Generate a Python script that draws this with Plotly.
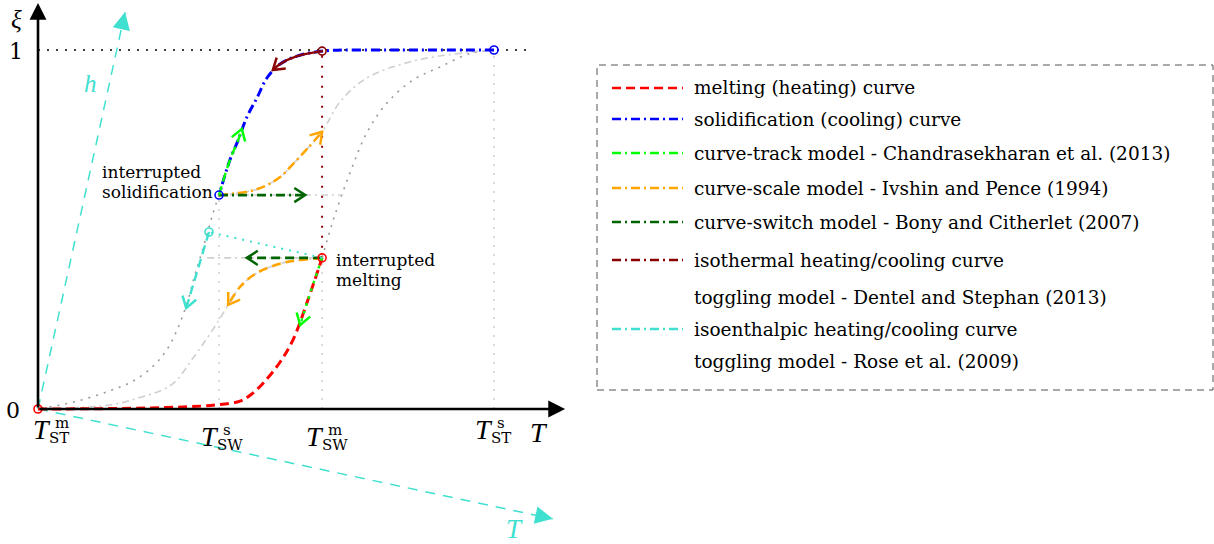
import math
import plotly.graph_objects as go

W, H = 1214, 544

# ---------------- data (T normalised: 0 = T_ST^m, 1 = T_ST^s ; xi = liquid fraction) ----------------
tick_T = [0.0, 0.397, 0.623, 1.0]
tick_sup = ["m", "s", "m", "s"]
tick_sub = ["ST", "SW", "SW", "ST"]
tick_guide_top = [0.0, 0.596, 0.421, 1.0]

# melting (heating) curve - drawn part, and its continuation
melt_T = [0.0, 0.246, 0.388, 0.443, 0.469, 0.498, 0.531, 0.559, 0.592, 0.623]
melt_xi = [0.0, 0.003, 0.011, 0.022, 0.042, 0.078, 0.131, 0.192, 0.304, 0.421]
melt_rest_T = [0.623, 0.649, 0.684, 0.721, 0.765, 0.822, 0.882, 0.947, 1.0]
melt_rest_xi = [0.421, 0.532, 0.657, 0.769, 0.852, 0.916, 0.953, 0.99, 1.0]

# solidification (cooling) curve - drawn part, and its continuation
solid_T = [1.0, 0.794, 0.625, 0.568, 0.531, 0.502, 0.480, 0.458, 0.439, 0.421, 0.397]
solid_xi = [1.0, 1.0, 0.997, 0.983, 0.961, 0.922, 0.866, 0.813, 0.749, 0.694, 0.596]
solid_rest_T = [0.397, 0.384, 0.362, 0.344, 0.327, 0.307, 0.285, 0.257, 0.213, 0.156, 0.077, 0.0]
solid_rest_xi = [0.596, 0.546, 0.448, 0.373, 0.295, 0.226, 0.170, 0.125, 0.081, 0.050, 0.019, 0.0]

# scaled cooling curve through the interrupted-melting point
scool_T = [0.623, 0.575, 0.537, 0.480, 0.443, 0.417, 0.397, 0.371, 0.340, 0.292, 0.213, 0.156, 0.0]
scool_xi = [0.421, 0.415, 0.407, 0.379, 0.340, 0.290, 0.248, 0.198, 0.142, 0.067, 0.028, 0.011, 0.0]
# scaled heating curve through the interrupted-solidification point
sheat_T = [0.397, 0.465, 0.498, 0.531, 0.559, 0.592, 0.623, 0.662, 0.721, 0.822, 0.947, 1.0]
sheat_xi = [0.596, 0.607, 0.621, 0.646, 0.682, 0.727, 0.772, 0.855, 0.922, 0.969, 0.994, 1.0]

# interruption points
p_solid = (0.397, 0.596)
p_melt = (0.623, 0.421)
p_iso_h = (0.375, 0.493)
p_top_iso = (0.623, 0.997)
p_end_solid = (1.0, 1.0)
p_origin = (0.0, 0.0)

# curve-switch targets
switch_heat_end = 0.669
switch_cool_end = 0.371
green1_T = [0.397, 0.586]
green2_T = [0.623, 0.458]

# curve-track arrows
lime1_T = [0.397, 0.421, 0.439, 0.447]
lime1_xi = [0.596, 0.694, 0.749, 0.780]
lime2_T = [0.623, 0.592, 0.575]
lime2_xi = [0.421, 0.304, 0.234]

# isothermal toggling arrow
dred_T = [0.625, 0.568, 0.531, 0.515]
dred_xi = [0.997, 0.983, 0.961, 0.944]

# isoenthalpic toggling arrow end
iso_arrow_end = (0.325, 0.281)

# axes extents
x_axis_end = 1.156
y_axis_end = 1.131
xi_one_end = 1.072
h_axis_tip = (0.191, 1.106)
cT_axis_tip = (1.129, -0.306)

legend_labels = [
    "melting (heating) curve",
    "solidification (cooling) curve",
    "curve-track model - Chandrasekharan et al. (2013)",
    "curve-scale model - Ivshin and Pence (1994)",
    "curve-switch model - Bony and Citherlet (2007)",
    "isothermal heating/cooling curve",
    "toggling model - Dentel and Stephan (2013)",
    "isoenthalpic heating/cooling curve",
    "toggling model - Rose et al. (2009)",
]
RED, BLUE, LIME, ORANGE, DGREEN, DRED, CYAN = (
    "#ff0000", "#0000ff", "#00ff00", "#ffa500", "#006400", "#8b0000", "#40e0d0")
legend_colors = [RED, BLUE, LIME, ORANGE, DGREEN, DRED, None, CYAN, None]

# ---------------- geometry helpers ----------------
XR = [-0.08333, 1.18860]
YR = [-0.37604, 1.13928]
XDOM = [0.0, 580 / W]
FONT = "DejaVu Serif"
MATH = "Liberation Serif"
DASHDOT = "9px,4px,2px,4px"
DASH = "9px,5px"


def to_px(t, xi):
    px = XDOM[0] * W + (t - XR[0]) / (XR[1] - XR[0]) * (XDOM[1] - XDOM[0]) * W
    py = H - (xi - YR[0]) / (YR[1] - YR[0]) * H
    return px, py


def to_data(px, py):
    t = XR[0] + (px - XDOM[0] * W) / ((XDOM[1] - XDOM[0]) * W) * (XR[1] - XR[0])
    xi = YR[0] + (H - py) / H * (YR[1] - YR[0])
    return t, xi


def chevron(ts, xis, length=13, half_angle=33):
    x1, y1 = to_px(ts[-2], xis[-2])
    x2, y2 = to_px(ts[-1], xis[-1])
    dx, dy = x2 - x1, y2 - y1
    n = math.hypot(dx, dy)
    dx, dy = dx / n, dy / n
    arms = []
    for s in (1, -1):
        a = math.radians(s * half_angle)
        vx = dx * math.cos(a) - dy * math.sin(a)
        vy = dx * math.sin(a) + dy * math.cos(a)
        arms.append(to_data(x2 - length * vx, y2 - length * vy))
    return ([arms[0][0], ts[-1], arms[1][0]], [arms[0][1], xis[-1], arms[1][1]])


fig = go.Figure()


def line(ts, xis, color, width, dash="solid", spline=True):
    fig.add_trace(go.Scatter(
        x=ts, y=xis, mode="lines", hoverinfo="skip", showlegend=False,
        line=dict(color=color, width=width, dash=dash,
                  shape="spline" if spline else "linear", smoothing=1.0)))


def arrow(ts, xis, color, width, dash, spline=True):
    line(ts, xis, color, width, dash, spline)
    cx, cy = chevron(ts, xis)
    line(cx, cy, color, 2.5, "solid", spline=False)


GRAY = "#9a9a9a"
LGRAY = "#cfcfcf"

# guides
line([0.0, xi_one_end], [1.0, 1.0], "#000000", 1.6, "2px,7px", spline=False)
for t, top in zip(tick_T[1:], tick_guide_top[1:]):
    line([t, t], [0.0, top], LGRAY, 1.5, "2px,7px", spline=False)
line([p_melt[0], p_top_iso[0]], [p_melt[1], p_top_iso[1]], DRED, 2.0, "2px,8px", spline=False)

# cyan auxiliary h/T axes (dashed)
line([0.0, h_axis_tip[0]], [0.0, h_axis_tip[1]], CYAN, 1.5, "10px,8px", spline=False)
line([0.0, cT_axis_tip[0]], [0.0, cT_axis_tip[1]], CYAN, 1.5, "10px,8px", spline=False)

# continuations and scaled curves
line(melt_rest_T, melt_rest_xi, GRAY, 1.6, "2px,6px")
line(solid_rest_T, solid_rest_xi, GRAY, 1.6, "2px,6px")
line(scool_T, scool_xi, LGRAY, 1.6, "7px,4px,2px,4px")
line(sheat_T, sheat_xi, LGRAY, 1.6, "7px,4px,2px,4px")
line([p_solid[0], switch_heat_end], [p_solid[1], p_solid[1]], LGRAY, 1.6, "7px,4px,2px,4px", spline=False)
line([switch_cool_end, p_melt[0]], [p_melt[1], p_melt[1]], LGRAY, 1.6, "7px,4px,2px,4px", spline=False)

# main curves
line(melt_T, melt_xi, RED, 3.0, DASH)
line(solid_T, solid_xi, BLUE, 3.0, DASHDOT)

# model arrows
n_oh = sheat_T.index(p_melt[0]) + 1
arrow(sheat_T[:n_oh], sheat_xi[:n_oh], ORANGE, 2.6, DASHDOT)
arrow(scool_T[:6], scool_xi[:6], ORANGE, 2.6, DASH)
arrow(green1_T, [p_solid[1]] * 2, DGREEN, 2.8, DASHDOT, spline=False)
arrow(green2_T, [p_melt[1]] * 2, DGREEN, 2.8, DASH, spline=False)
arrow(lime1_T, lime1_xi, LIME, 2.4, DASH)
arrow(lime2_T, lime2_xi, LIME, 2.4, "3px,5px")
arrow(dred_T, dred_xi, DRED, 2.4, "solid")
line([p_melt[0], p_iso_h[0]], [p_melt[1], p_iso_h[1]], CYAN, 2.0, "2px,6px", spline=False)
arrow([p_iso_h[0], iso_arrow_end[0]], [p_iso_h[1], iso_arrow_end[1]], CYAN, 2.4, DASH, spline=False)

# circles
for pts, col in [([p_origin, p_melt], RED), ([p_top_iso], DRED),
                 ([p_solid, p_end_solid], BLUE), ([p_iso_h], CYAN)]:
    fig.add_trace(go.Scatter(
        x=[p[0] for p in pts], y=[p[1] for p in pts], mode="markers",
        hoverinfo="skip", showlegend=False,
        marker=dict(symbol="circle-open", size=8, color=col, line=dict(width=1.6, color=col))))

annotations = []


def head(tip, tail, color, width, size, frac):
    ax = tip[0] - frac * (tip[0] - tail[0])
    ay = tip[1] - frac * (tip[1] - tail[1])
    annotations.append(dict(x=tip[0], y=tip[1], ax=ax, ay=ay, xref="x", yref="y",
                            axref="x", ayref="y", text="", showarrow=True, arrowhead=2,
                            arrowsize=size, arrowwidth=width, arrowcolor=color, standoff=0))


# black axes with filled heads
head((x_axis_end, 0.0), (0.0, 0.0), "#000000", 2.6, 1.3, 1.0)
head((0.0, y_axis_end), (0.0, 0.0), "#000000", 2.6, 1.3, 1.0)
# cyan axis heads
head(h_axis_tip, (0.0, 0.0), CYAN, 1.6, 2.2, 0.04)
head(cT_axis_tip, (0.0, 0.0), CYAN, 1.6, 2.2, 0.03)


def text(px, py, s, size, color="#000000", xanchor="center", italic=False, family=FONT):
    if italic:
        s = "<i>" + s + "</i>"
    annotations.append(dict(x=px / W, y=1 - py / H, xref="paper", yref="paper", text=s,
                            showarrow=False, xanchor=xanchor, yanchor="middle",
                            font=dict(family=family, size=size, color=color)))


# axis labels
text(16, 20, "ξ", 25, italic=True, family=MATH)
text(16, 51, "1", 22)
text(13, 410, "0", 22)
text(539, 432, "T", 28, italic=True, family=MATH)
text(90, 83, "h", 25, CYAN, italic=True, family=MATH)
text(514, 529, "T", 27, CYAN, italic=True, family=MATH)

# tick labels T^{sup}_{sub}
label_dx = [12, -1, 1, -2]
label_y = [429, 436, 436, 429]
for t, sup, sub, dx, ly in zip(tick_T, tick_sup, tick_sub, label_dx, label_y):
    c = to_px(t, 0)[0] + dx
    text(c - 8, ly, "T", 28, italic=True, family=MATH)
    text(c + 3, ly - 6, sup, 15, xanchor="left")
    text(c - 3, ly + 9, sub, 15, xanchor="left")

# point annotations
text(100, 172, "interrupted", 17, xanchor="left")
text(100, 192, "solidification", 17, xanchor="left")
text(334, 260, "interrupted", 17, xanchor="left")
text(334, 280, "melting", 17, xanchor="left")

# custom legend
shapes = [dict(type="rect", xref="paper", yref="paper", x0=597 / W, x1=1213 / W,
               y0=1 - 390 / H, y1=1 - 65 / H, line=dict(color="#555555", width=1, dash="7px,5px"))]
legend_rows = [88, 119, 153, 188, 222, 260, 297, 329, 361]
for lab, col, ry in zip(legend_labels, legend_colors, legend_rows):
    if col is not None:
        shapes.append(dict(type="line", xref="paper", yref="paper", x0=612 / W, x1=683 / W,
                           y0=1 - ry / H, y1=1 - ry / H,
                           line=dict(color=col, width=2.5, dash=DASH if col == RED else DASHDOT)))
    text(692, ry, lab, 18.5, xanchor="left")

fig.update_layout(
    width=W, height=H, margin=dict(l=0, r=0, t=0, b=0),
    paper_bgcolor="white", plot_bgcolor="white",
    xaxis=dict(range=XR, domain=XDOM, visible=False, fixedrange=True),
    yaxis=dict(range=YR, domain=[0, 1], visible=False, fixedrange=True),
    annotations=annotations, shapes=shapes, showlegend=False,
)

fig.write_html("out.html", config={"displayModeBar": False},
               post_script="document.body.style.margin='0px';")
